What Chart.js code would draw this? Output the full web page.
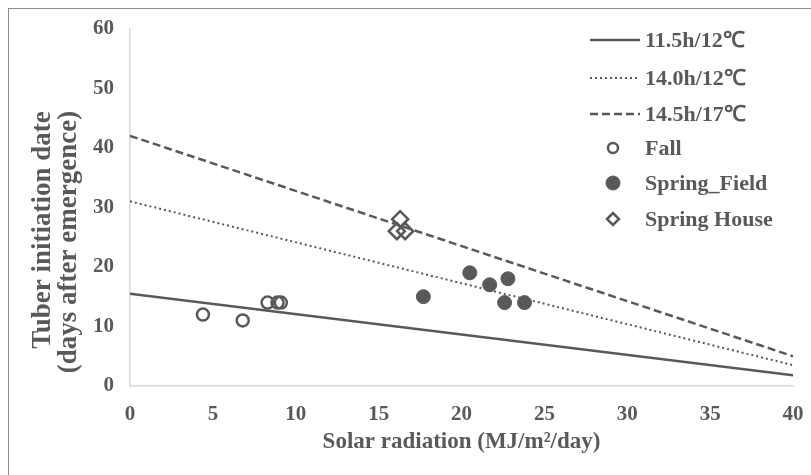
<!DOCTYPE html>
<html>
<head>
<meta charset="utf-8">
<script src="https://cdn.jsdelivr.net/npm/chart.js@4/dist/chart.umd.min.js"></script>
<style>
html, body { margin: 0; padding: 0; background: #fff; }
#wrap { width: 811px; height: 475px; }
</style>
</head>
<body>
<div id="wrap"><canvas id="chart"></canvas></div>
<script>
// regression lines, evaluated at both ends of the x range
const lineX = [0, 40];
const line115 = [15.5, 1.8];
const line140 = [31.0, 3.5];
const line145 = [42.0, 5.0];

// observations
const fallX = [4.4, 6.8, 8.3, 8.9, 9.1];
const fallY = [12, 11, 14, 14, 14];
const fieldX = [17.7, 20.5, 21.7, 22.6, 22.8, 23.8];
const fieldY = [15, 19, 17, 14, 18, 14];
const houseX = [16.3, 16.1, 16.6];
const houseY = [28, 26, 26];

const seriesLabels = ['11.5h/12\u2103', '14.0h/12\u2103', '14.5h/17\u2103', 'Fall', 'Spring_Field', 'Spring House'];
const xTicks = [0, 5, 10, 15, 20, 25, 30, 35, 40];
const yTicks = [0, 10, 20, 30, 40, 50, 60];
const xTitle = 'Solar radiation (MJ/m\u00b2/day)';
const yTitle = ['Tuber initiation date', '(days after emergence)'];

const toPts = (xs, ys) => xs.map((x, i) => ({ x: x, y: ys[i] }));

const grey = '#595959';
const serif = "'Liberation Serif', 'Times New Roman', serif";

// legend drawn inside the plot, on the right
const legendRows = [40, 78, 114, 148, 183, 219];
const innerLegend = {
    id: 'innerLegend',
    afterDraw(chart) {
        const ctx = chart.ctx;
        ctx.save();
        chart.data.datasets.forEach((ds, i) => {
            const y = legendRows[i];
            if (ds.showLine) {
                ctx.strokeStyle = ds.borderColor;
                ctx.lineWidth = ds.borderWidth;
                ctx.setLineDash(ds.borderDash || []);
                ctx.beginPath();
                ctx.moveTo(590, y);
                ctx.lineTo(640, y);
                ctx.stroke();
                ctx.setLineDash([]);
            } else {
                ctx.strokeStyle = ds.borderColor;
                ctx.fillStyle = ds.backgroundColor;
                ctx.lineWidth = ds.pointBorderWidth;
                Chart.helpers.drawPoint(ctx, {
                    pointStyle: ds.pointStyle,
                    radius: ds.legendRadius,
                    borderWidth: ds.pointBorderWidth,
                    rotation: 0
                }, 613, y);
            }
            ctx.fillStyle = grey;
            ctx.font = 'bold 22px ' + serif;
            ctx.textBaseline = 'middle';
            ctx.textAlign = 'left';
            ctx.fillText(ds.label, 645, y + 1);
        });
        ctx.restore();
    }
};

// frame round the whole figure and the two-line y title
const decor = {
    id: 'decor',
    afterDraw(chart) {
        const ctx = chart.ctx;
        ctx.save();
        ctx.strokeStyle = '#8c8c8c';
        ctx.lineWidth = 1;
        ctx.strokeRect(8.5, 8.5, 820, 500);
        ctx.translate(56, 236);
        ctx.rotate(-Math.PI / 2);
        ctx.fillStyle = grey;
        ctx.font = 'bold 27px ' + serif;
        ctx.textAlign = 'center';
        ctx.textBaseline = 'middle';
        ctx.fillText(yTitle[0], 6, -13);
        ctx.fillText(yTitle[1], -6, 13);
        ctx.restore();
    }
};

new Chart(document.getElementById('chart'), {
    type: 'scatter',
    data: {
        datasets: [
            {
                label: seriesLabels[0],
                data: toPts(lineX, line115),
                showLine: true,
                borderColor: grey,
                borderWidth: 2.5,
                pointRadius: 0,
                order: 2
            },
            {
                label: seriesLabels[1],
                data: toPts(lineX, line140),
                showLine: true,
                borderColor: grey,
                borderWidth: 2,
                borderDash: [2, 3],
                pointRadius: 0,
                order: 2
            },
            {
                label: seriesLabels[2],
                data: toPts(lineX, line145),
                showLine: true,
                borderColor: grey,
                borderWidth: 2.5,
                borderDash: [8, 4],
                pointRadius: 0,
                order: 2
            },
            {
                label: seriesLabels[3],
                data: toPts(fallX, fallY),
                pointStyle: 'circle',
                pointRadius: 6,
                pointBorderWidth: 2.5,
                borderColor: grey,
                backgroundColor: 'rgba(255,255,255,0)',
                legendRadius: 5,
                order: 1
            },
            {
                label: seriesLabels[4],
                data: toPts(fieldX, fieldY),
                pointStyle: 'circle',
                pointRadius: 7,
                pointBorderWidth: 1,
                borderColor: grey,
                backgroundColor: grey,
                legendRadius: 7,
                order: 1
            },
            {
                label: seriesLabels[5],
                data: toPts(houseX, houseY),
                pointStyle: 'rectRot',
                pointRadius: 8,
                pointBorderWidth: 2.5,
                borderColor: grey,
                backgroundColor: 'rgba(255,255,255,0)',
                legendRadius: 6,
                order: 1
            }
        ]
    },
    options: {
        responsive: true,
        maintainAspectRatio: false,
        animation: false,
        layout: {
            padding: { top: 27, right: 18, left: 0, bottom: 0 }
        },
        plugins: {
            legend: { display: false },
            tooltip: { enabled: false }
        },
        scales: {
            x: {
                type: 'linear',
                min: 0,
                max: 40,
                afterBuildTicks: s => { s.ticks = xTicks.map(v => ({ value: v })); },
                afterFit: s => { s.height = 89; s.paddingRight = 0; s.paddingLeft = 0; },
                grid: { display: false, drawTicks: false },
                border: { display: true, color: '#d9d9d9', width: 1.5 },
                ticks: {
                    color: grey,
                    padding: 16,
                    font: { family: serif, size: 21, weight: 'bold' }
                },
                title: {
                    display: true,
                    text: xTitle,
                    color: grey,
                    padding: { top: 0, bottom: 19 },
                    font: { family: serif, size: 23, weight: 'bold' }
                }
            },
            y: {
                type: 'linear',
                min: 0,
                max: 60,
                afterBuildTicks: s => { s.ticks = yTicks.map(v => ({ value: v })); },
                afterFit: s => { s.width = 130; },
                grid: { display: false, drawTicks: false },
                border: { display: true, color: '#d9d9d9', width: 1.5 },
                ticks: {
                    color: grey,
                    padding: 16,
                    font: { family: serif, size: 21, weight: 'bold' }
                }
            }
        }
    },
    plugins: [innerLegend, decor]
});
</script>
</body>
</html>
